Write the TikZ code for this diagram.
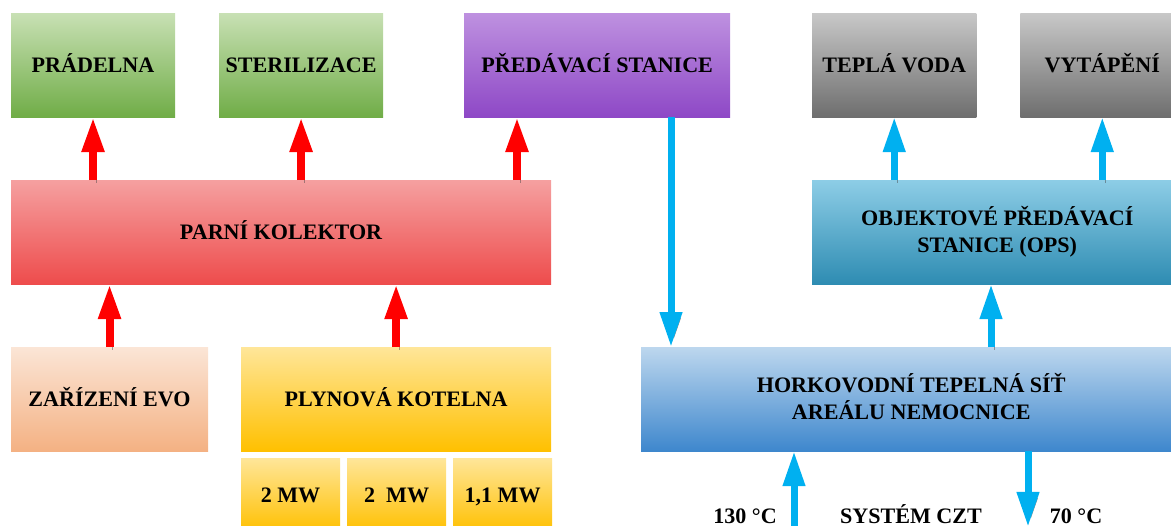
\documentclass[tikz,border=0pt]{standalone}
\usepackage{fontspec}
\setmainfont{Liberation Serif}
\usetikzlibrary{arrows.meta,positioning}
\definecolor{greentop}{RGB}{200,224,180}
\definecolor{greenbot}{RGB}{112,173,71}
\definecolor{purpletop}{RGB}{190,145,224}
\definecolor{purplebot}{RGB}{142,72,198}
\definecolor{graytop}{RGB}{200,200,200}
\definecolor{graybot}{RGB}{110,110,110}
\definecolor{redtop}{RGB}{245,160,160}
\definecolor{redbot}{RGB}{238,76,76}
\definecolor{peachtop}{RGB}{251,229,214}
\definecolor{peachbot}{RGB}{244,177,131}
\definecolor{yellowtop}{RGB}{255,230,153}
\definecolor{yellowbot}{RGB}{255,192,0}
\definecolor{bluetop}{RGB}{189,215,238}
\definecolor{bluebot}{RGB}{62,135,205}
\definecolor{tealtop}{RGB}{141,205,230}
\definecolor{tealbot}{RGB}{46,140,178}
\definecolor{pilred}{RGB}{255,0,0}
\definecolor{pilblue}{RGB}{0,176,240}
\tikzset{
    %Define style for boxes
    blok/.style={
           rectangle,
           inner sep=0pt, outer sep=0pt,
           minimum height=2.6cm,
           text height=10.5pt, text depth=0pt,
           font=\bfseries\fontsize{15.7}{19.2}\selectfont,
           align=center},
    twolines/.style={text height=29.7pt, text depth=0pt},
    greenbox/.style={blok, minimum width=4.1cm,
           top color=greentop, bottom color=greenbot},
    purplebox/.style={blok, minimum width=6.65cm,
           top color=purpletop, bottom color=purplebot},
    graybox/.style={blok, minimum width=4.1cm,
           top color=graytop, bottom color=graybot},
    redbox/.style={blok, minimum width=13.5cm,
           top color=redtop, bottom color=redbot},
    tealbox/.style={blok, minimum width=9.25cm,
           top color=tealtop, bottom color=tealbot},
    peachbox/.style={blok, minimum width=4.925cm,
           top color=peachtop, bottom color=peachbot},
    yellowbox/.style={blok, minimum width=7.75cm,
           top color=yellowtop, bottom color=yellowbot},
    bluebox/.style={blok, minimum width=13.5cm,
           top color=bluetop, bottom color=bluebot},
    mwbox/.style={blok, minimum width=2.475cm, minimum height=1.85cm,
           top color=yellowtop, bottom color=yellowbot},
    popis/.style={
           font=\bfseries\fontsize{15.7}{19.2}\selectfont,
           inner sep=0pt, anchor=base},
    % Define arrow style
    pilshadow/.style={
           preaction={draw=black!75, opacity=0.45,
           transform canvas={xshift=2pt, yshift=-2pt}}},
    redpil/.style={
           draw=pilred, line width=0.2cm, pilshadow,
           -{Triangle[width=0.525cm, length=0.875cm]}},
    bluepil/.style={
           draw=pilblue, line width=0.175cm, pilshadow,
           -{Triangle[width=0.525cm, length=0.875cm]}}
}
\begin{document}
\begin{tikzpicture}[x=0.025cm, y=-0.025cm, node distance=1.1cm]
\useasboundingbox (0,0) rectangle (1171,526);
\clip (0,0) rectangle (1171,526);
% top row
\node[greenbox, anchor=north west] (pradelna) at (11,13) {PRÁDELNA};
\node[greenbox, right=of pradelna] (sterilizace) {STERILIZACE};
\node[purplebox, right=2.025cm of sterilizace] (predavaci) {PŘEDÁVACÍ STANICE};
\node[graybox, right=2.05cm of predavaci] (tepla) {TEPLÁ VODA};
\node[graybox, right=of tepla] (vytapeni) {VYTÁPĚNÍ};
% middle row
\node[redbox, below=1.575cm of pradelna.south west, anchor=north west] (kolektor) {PARNÍ KOLEKTOR};
\node[tealbox, twolines, below=1.575cm of tepla.south west, anchor=north west] (ops) {OBJEKTOVÉ PŘEDÁVACÍ\\STANICE (OPS)};
% bottom row
\node[peachbox, below=1.575cm of kolektor.south west, anchor=north west] (evo) {ZAŘÍZENÍ EVO};
\node[yellowbox, right=0.825cm of evo] (kotelna) {PLYNOVÁ KOTELNA};
\node[bluebox, twolines, right=2.25cm of kotelna] (horkovodni) {HORKOVODNÍ TEPELNÁ SÍŤ\\AREÁLU NEMOCNICE};
\node[mwbox, below=0.175cm of kotelna.south west, anchor=north west] (mw1) {2 MW};
\node[mwbox, right=0.175cm of mw1] (mw2) {2~~MW};
\node[mwbox, right=0.175cm of mw2] (mw3) {1,1 MW};
% CZT labels
\node[popis] (t130) at (745,523) {130 °C};
\node[popis] (czt) at (911,523) {SYSTÉM CZT};
\node[popis] (t70) at (1076,523) {70 °C};
% arrows
\coordinate (r3) at (517,0);
\coordinate (b1) at (671,0);
\coordinate (b2) at (991,0);
\coordinate (b3) at (794,545);
\coordinate (b4) at (1028,527);
\draw[redpil] (kolektor.north -| pradelna.south) -- (pradelna.south);
\draw[redpil] (kolektor.north -| sterilizace.south) -- (sterilizace.south);
\draw[redpil] (kolektor.north -| r3) -- (predavaci.south -| r3);
\draw[redpil] (evo.north) -- (kolektor.south -| evo.north);
\draw[redpil] (kotelna.north) -- (kolektor.south -| kotelna.north);
\draw[bluepil] (predavaci.south -| b1) -- (horkovodni.north -| b1);
\draw[bluepil] (ops.north -| tepla.south) -- (tepla.south);
\draw[bluepil] (ops.north -| vytapeni.south) -- (vytapeni.south);
\draw[bluepil] (horkovodni.north -| b2) -- (ops.south -| b2);
\draw[bluepil] (b3) -- (horkovodni.south -| b3);
\draw[bluepil] (horkovodni.south -| b4) -- (b4);
\end{tikzpicture}
\end{document}
